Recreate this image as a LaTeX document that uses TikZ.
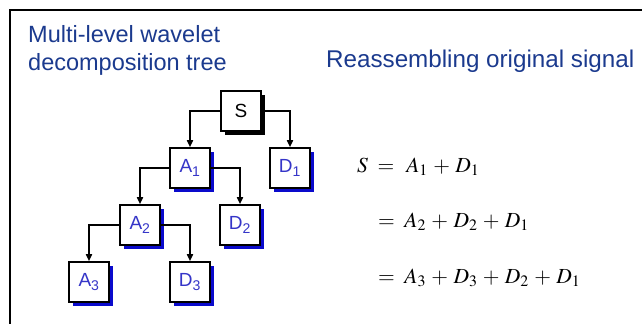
\documentclass[tikz,border=0pt]{standalone}
\usepackage{mathptmx}
\usepackage{fontspec}
\setsansfont{Liberation Sans}
\usepackage{xcolor}
\usetikzlibrary{arrows.meta,shadows}
\definecolor{navyx}{HTML}{1B3A8E}
\definecolor{bluex}{HTML}{3535C8}
\definecolor{shadx}{HTML}{0A0ACC}
\newcommand{\pl}{\mkern2mu+\mkern2mu}
\tikzset{
  ar/.style={-{Triangle[length=7pt,width=6pt]},line width=1.6pt},
  box/.style={draw,line width=1.6pt,fill=white,minimum size=40pt,inner sep=0pt,
    font=\sffamily\fontsize{19}{19}\selectfont,text=bluex,
    drop shadow={shadow xshift=3.5pt,shadow yshift=-3.5pt,fill=shadx,opacity=1}},
  head/.style={font=\sffamily\fontsize{23.5}{28}\selectfont,text=navyx,anchor=base west,inner sep=0pt},
  eq/.style={anchor=base west,inner sep=0pt,font=\fontsize{21.5}{21.5}\selectfont}
}
\begin{document}
\begin{tikzpicture}[x=1pt,y=-1pt]
\useasboundingbox (0,0) rectangle (642,324);
% frame
\draw[line width=2pt] (642,9.5) -- (9.5,9.5) -- (9.5,324);
% headings
\node[head] (t1) at (28,42) {Multi-level wavelet};
\node[head] (t2) at (28,70) {decomposition tree};
\node[head,font=\sffamily\fontsize{24.2}{28}\selectfont] (t3) at (326,67) {Reassembling original signal};
% tree
\node[box,text=black,drop shadow={shadow xshift=3.5pt,shadow yshift=-3.5pt,fill=black,opacity=1}] (S) at (241,111) {S};
\node[box] (A1) at (190,168) {A\textsubscript{1}};
\node[box] (D1) at (290,168) {D\textsubscript{1}};
\node[box] (A2) at (140,225) {A\textsubscript{2}};
\node[box] (D2) at (240,225) {D\textsubscript{2}};
\node[box] (A3) at (89,282) {A\textsubscript{3}};
\node[box] (D3) at (190,282) {D\textsubscript{3}};
\draw[ar] (S.west) -| (A1.north);
\draw[ar] (S.east) -| (D1.north);
\draw[ar] (A1.west) -| (A2.north);
\draw[ar] (A1.east) -| (D2.north);
\draw[ar] (A2.west) -| (A3.north);
\draw[ar] (A2.east) -| (D3.north);
% equations
\node[eq] (e1) at (357,172) {$S\;=\;\,A_1\pl D_1$};
\node[eq] (e2) at (378,227) {$=\;A_2\pl D_2\pl D_1$};
\node[eq] (e3) at (378,283) {$=\;A_3\pl D_3\pl D_2\pl D_1$};
\end{tikzpicture}
\end{document}
